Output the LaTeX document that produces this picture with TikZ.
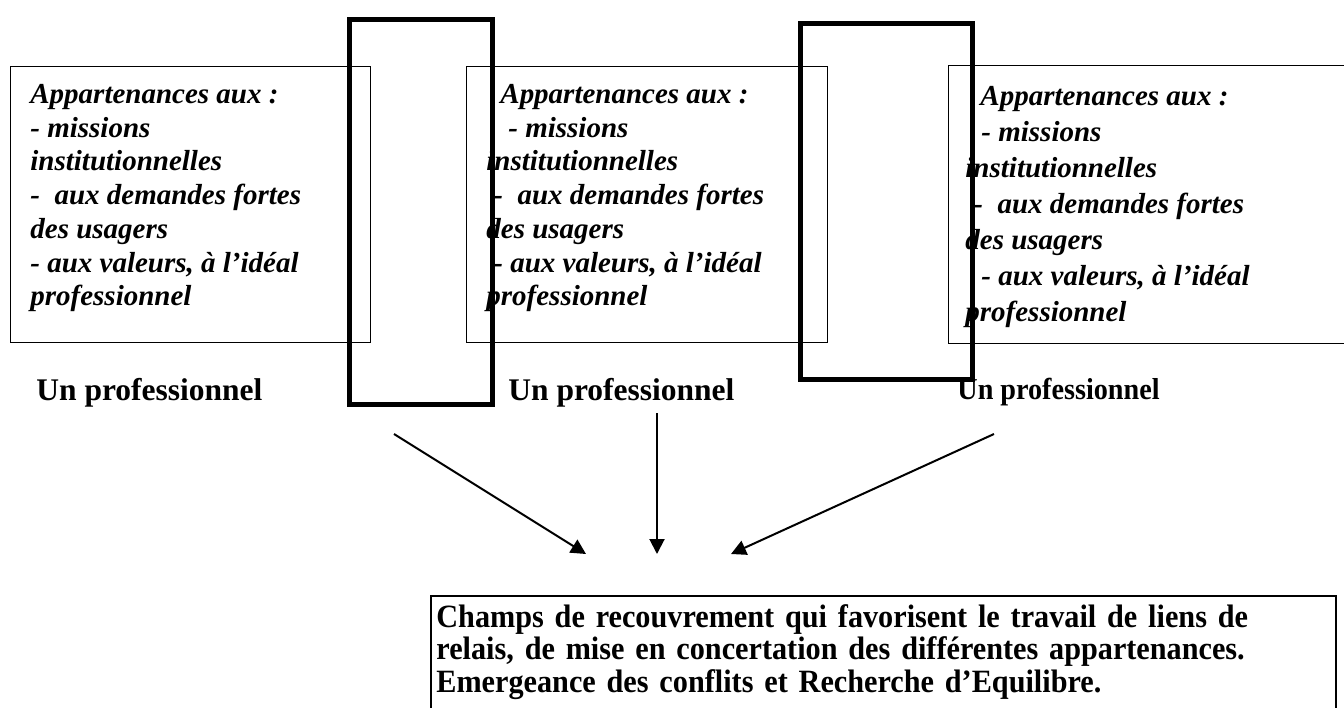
\documentclass[tikz,border=0pt]{standalone}
\usepackage{fontspec}
\setmainfont{Liberation Serif}
\newfontfamily\serretimes[Ligatures=TeX,FakeStretch=0.93]{Liberation Serif}
\usetikzlibrary{arrows.meta}
\tikzset{
  cadre/.style={draw=black,line width=0.65pt,inner sep=0pt,anchor=north west},
  pilier/.style={draw=black,line width=2.4pt,inner sep=0pt,anchor=north west},
  appart/.style={anchor=north west,inner sep=0pt,align=left,
                 font=\fontsize{14.5}{16.85}\selectfont\bfseries\itshape},
  pro/.style={anchor=base west,inner sep=0pt,
              font=\fontsize{15.75}{18}\selectfont\bfseries},
  champ/.style={anchor=base west,inner sep=0pt,text width=440.5pt,align=left,
                font=\serretimes\fontsize{16.25}{16.25}\selectfont\bfseries},
  lien/.style={-{Triangle[length=7.5pt,width=7.5pt]},line width=1pt}
}

\begin{document}
\begin{tikzpicture}[x=0.5pt,y=-0.5pt]
  \useasboundingbox (0,0) rectangle (1344,707);

  % les trois professionnels
  \node[cadre,minimum width=180pt,minimum height=138pt] (cadreA) at (10,66) {};
  \node[cadre,minimum width=180.5pt,minimum height=138pt] (cadreB) at (466,66) {};
  \node[cadre,minimum width=210pt,minimum height=139pt] (cadreC) at (948,65) {};

  \node[appart] (txtA) at (30,84) {Appartenances aux :\\- missions\\institutionnelles\\-\ \ aux demandes fortes\\des usagers\\- aux valeurs, à l'idéal\\professionnel};
  \node[appart] (txtB) at (486,84) {\hspace*{7pt}Appartenances aux :\\\hspace*{11pt}- missions\\institutionnelles\\\hspace*{3.5pt}-\ \ aux demandes fortes\\des usagers\\\hspace*{3.5pt}- aux valeurs, à l'idéal\\professionnel};
  \node[appart,font=\fontsize{14.5}{18}\selectfont\bfseries\itshape] (txtC) at (965,86) {\hspace*{7.5pt}Appartenances aux :\\\hspace*{8pt}- missions\\institutionnelles\\\hspace*{4pt}-\ \ aux demandes fortes\\des usagers\\\hspace*{8pt}- aux valeurs, à l'idéal\\professionnel};

  \node[pro] (proA) at (36,400) {Un professionnel};
  \node[pro] (proB) at (508,400) {Un professionnel};
  \node[pro,font=\serretimes\fontsize{15.15}{17}\selectfont\bfseries] (proC) at (957,399) {Un professionnel};

  % zones de recouvrement
  \node[pilier,minimum width=71.5pt,minimum height=192.5pt] (recA) at (347,17) {};
  \node[pilier,minimum width=86pt,minimum height=178pt] (recB) at (798,21) {};

  % vers le champ commun
  \coordinate (depA) at (394,434);
  \coordinate (depB) at (657,413);
  \coordinate (depC) at (994,434);
  \coordinate (arrA) at (586,554);
  \coordinate (arrB) at (657,554);
  \coordinate (arrC) at (731,554);
  \draw[lien] (depA) -- (arrA);
  \draw[lien] (depB) -- (arrB);
  \draw[lien] (depC) -- (arrC);

  \node[cadre,line width=1pt,minimum width=452.5pt,minimum height=100pt] (recouv) at (430,595) {};
  \node[champ] (txtR) at (436,627) {\makebox[\hsize][s]{Champs de recouvrement qui favorisent le travail de liens de}\\relais, de mise en concertation des différentes appartenances.\\Emergeance des conflits et Recherche d'Equilibre.};
\end{tikzpicture}
\end{document}
